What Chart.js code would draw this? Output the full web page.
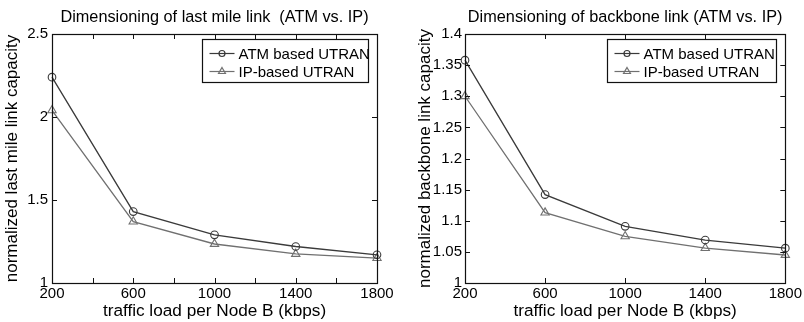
<!DOCTYPE html>
<html>
<head>
<meta charset="utf-8">
<script src="https://cdn.jsdelivr.net/npm/chart.js@4"></script>
<style>
  body { margin:0; background:#fff; }
  .wrap { position:absolute; top:0; height:322px; }
</style>
</head>
<body>
<div class="wrap" style="left:0;width:400px"><canvas id="lastMile" width="400" height="322"></canvas></div>
<div class="wrap" style="left:400px;width:404px"><canvas id="backbone" width="404" height="322"></canvas></div>
<script>
// traffic load per Node B (kbps)
var loadKbps = [200, 600, 1000, 1400, 1800];

// last mile link
var lastMileAtm = [2.24, 1.43, 1.29, 1.22, 1.17];
var lastMileIp = [2.04, 1.37, 1.235, 1.175, 1.15];

// backbone link
var backboneAtm = [1.358, 1.142, 1.091, 1.069, 1.056];
var backboneIp = [1.30, 1.113, 1.075, 1.056, 1.045];

var seriesNames = ['ATM based UTRAN', 'IP-based UTRAN'];

var FONT = 'Arial, "Liberation Sans", sans-serif';
Chart.defaults.font.family = FONT;
Chart.defaults.color = '#000';

function pts(ys) {
  return loadKbps.map(function (x, i) { return { x: x, y: ys[i] }; });
}

function fmt(v) { return String(Number(v.toFixed(2))); }

// matlab style title, frame, inward ticks and boxed legend
var matlabBox = {
  id: 'matlabBox',
  beforeDraw: function (chart, args, opts) {
    var ctx = chart.ctx, a = chart.chartArea;
    ctx.save();
    ctx.fillStyle = '#000';
    ctx.font = '16.3px ' + FONT;
    ctx.textAlign = 'center';
    ctx.textBaseline = 'alphabetic';
    ctx.fillText(opts.title, (a.left + a.right) / 2, 22);
    ctx.restore();
  },
  afterDatasetsDraw: function (chart, args, opts) {
    var ctx = chart.ctx, a = chart.chartArea;
    var xs = chart.scales.x, ys = chart.scales.y;
    ctx.save();
    ctx.strokeStyle = '#111';
    ctx.lineWidth = 1.2;
    ctx.strokeRect(Math.round(a.left) + 0.5, Math.round(a.top) + 0.5,
      Math.round(a.right - a.left), Math.round(a.bottom - a.top));
    ctx.lineWidth = 1;
    ctx.beginPath();
    xs.ticks.forEach(function (t) {
      var px = Math.round(xs.getPixelForValue(t.value)) + 0.5;
      ctx.moveTo(px, a.bottom); ctx.lineTo(px, a.bottom - 5);
      ctx.moveTo(px, a.top); ctx.lineTo(px, a.top + 5);
    });
    ys.ticks.forEach(function (t) {
      var py = Math.round(ys.getPixelForValue(t.value)) + 0.5;
      ctx.moveTo(a.left, py); ctx.lineTo(a.left + 5, py);
      ctx.moveTo(a.right, py); ctx.lineTo(a.right - 5, py);
    });
    ctx.stroke();

    // legend
    var w = opts.width, h = 43;
    var bx = Math.round(a.right - opts.gap - w) + 0.5, by = Math.round(a.top + 5) + 0.5;
    ctx.fillStyle = '#fff';
    ctx.fillRect(bx, by, w, h);
    ctx.lineWidth = 1.2;
    ctx.strokeRect(bx, by, w, h);
    ctx.font = '15px ' + FONT;
    ctx.textBaseline = 'middle';
    chart.data.datasets.forEach(function (ds, i) {
      var cy = by + 14 + i * 18;
      var x0 = bx + 7, x1 = bx + 32;
      ctx.strokeStyle = ds.borderColor;
      ctx.lineWidth = 1.2;
      ctx.beginPath(); ctx.moveTo(x0, cy); ctx.lineTo(x1, cy); ctx.stroke();
      ctx.fillStyle = 'rgba(0,0,0,0)';
      Chart.helpers.drawPoint(ctx, {
        pointStyle: ds.pointStyle, radius: ds.pointRadius - 0.8, borderWidth: 1.1, rotation: 0
      }, (x0 + x1) / 2, cy);
      ctx.fillStyle = '#000';
      ctx.textAlign = 'left';
      ctx.fillText(ds.label, bx + 36, cy + 1);
    });
    ctx.restore();
  }
};

function makeChart(id, title, yTitle, atm, ip, yMax, yStep, xStep, yWidth, padRight, legendW, yTitlePad, tickPad) {
  return new Chart(document.getElementById(id), {
    type: 'line',
    data: {
      datasets: [
        { label: seriesNames[0], data: pts(atm), borderColor: '#3a3a3a', backgroundColor: 'transparent',
          borderWidth: 1.3, pointStyle: 'circle', pointRadius: 3.8, pointBorderWidth: 1.1, clip: false,
          pointBackgroundColor: 'transparent', pointBorderColor: '#3a3a3a' },
        { label: seriesNames[1], data: pts(ip), borderColor: '#707070', backgroundColor: 'transparent',
          borderWidth: 1.3, pointStyle: 'triangle', pointRadius: 4.8, pointBorderWidth: 1.1, clip: false,
          pointBackgroundColor: 'transparent', pointBorderColor: '#707070' }
      ]
    },
    options: {
      responsive: false,
      animation: false,
      layout: { padding: { left: 0, right: padRight, top: 34, bottom: 0 } },
      plugins: {
        legend: { display: false },
        tooltip: { enabled: false },
        title: { display: false },
        matlabBox: { width: legendW, gap: 9, title: title }
      },
      scales: {
        x: {
          type: 'linear', min: 200, max: 1800,
          grid: { display: false, drawTicks: false },
          border: { display: false },
          ticks: { stepSize: xStep, padding: 2, maxRotation: 0, font: { size: 15 },
            callback: function (v) { return (v - 200) % 400 === 0 ? String(v) : ''; } },
          title: { display: true, text: 'traffic load per Node B (kbps)', font: { size: 17.2 }, padding: 0 },
          afterFit: function (s) { s.height = 39; }
        },
        y: {
          min: 1, max: yMax,
          grid: { display: false, drawTicks: false },
          border: { display: false },
          ticks: { stepSize: yStep, padding: tickPad, font: { size: 15 },
            callback: function (v) { return fmt(v); } },
          title: { display: true, text: yTitle, font: { size: 17 }, padding: yTitlePad },
          afterFit: function (s) { s.width = yWidth; }
        }
      }
    },
    plugins: [matlabBox]
  });
}

makeChart('lastMile', 'Dimensioning of last mile link  (ATM vs. IP)', 'normalized last mile link capacity',
  lastMileAtm, lastMileIp, 2.5, 0.5, 200, 52, 23, 166, { top: 2, bottom: 0 }, 4);
makeChart('backbone', 'Dimensioning of backbone link (ATM vs. IP)', 'normalized backbone link capacity',
  backboneAtm, backboneIp, 1.4, 0.05, 400, 65, 16, 169, { top: 15, bottom: 0 }, 3);
</script>
</body>
</html>
